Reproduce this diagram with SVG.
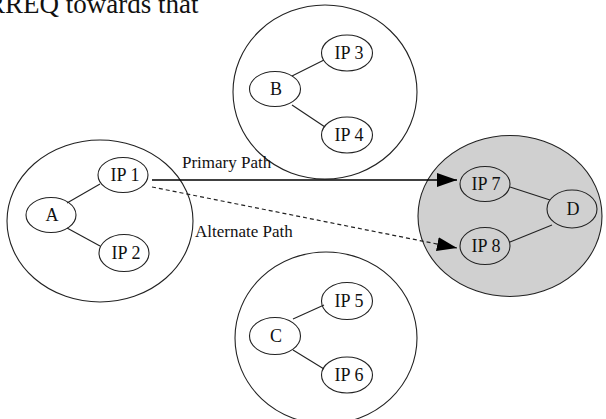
<svg xmlns="http://www.w3.org/2000/svg" width="606" height="419" viewBox="0 0 606 419">
<style>
.cl{fill:none;stroke:#222;stroke-width:1.1}
.cg{fill:#d0d0d0;stroke:#222;stroke-width:1.1}
.nd{fill:none;stroke:#222;stroke-width:1.1}
.ndg{fill:#d0d0d0;stroke:#222;stroke-width:1.1}
.ln{stroke:#222;stroke-width:1.1;fill:none}
text{font-family:"Liberation Serif","Times New Roman",serif;fill:#111}
.lb{font-size:18px;text-anchor:middle}
.pl{font-size:17px}
</style>
<defs>
<marker id="ah" markerUnits="userSpaceOnUse" markerWidth="20" markerHeight="14" refX="20" refY="7" orient="auto">
<path d="M0,0 L20,7 L0,14 z" fill="#000"/>
</marker>
</defs>
<rect width="606" height="419" fill="#fff"/>
<text x="-13" y="13" style="font-size:27px">RREQ towards that</text>

<g id="clusterA">
<ellipse class="cl" cx="100" cy="221" rx="93" ry="81"/>
<line class="ln" x1="67" y1="203" x2="100" y2="184"/>
<line class="ln" x1="67" y1="228" x2="100" y2="246"/>
<g id="A"><ellipse class="nd" cx="51" cy="215" rx="25" ry="17.5"/><text class="lb" x="52" y="221">A</text></g>
<g id="IP1"><ellipse class="nd" cx="123" cy="175" rx="25" ry="17.5"/><text class="lb" x="125" y="181">IP 1</text></g>
<g id="IP2"><ellipse class="nd" cx="124" cy="253" rx="25" ry="18.5"/><text class="lb" x="126" y="259">IP 2</text></g>
</g>

<g id="clusterB">
<ellipse class="cl" cx="325" cy="92" rx="92" ry="87"/>
<line class="ln" x1="292" y1="76" x2="324" y2="60"/>
<line class="ln" x1="292" y1="105" x2="325" y2="127"/>
<g id="B"><ellipse class="nd" cx="275" cy="89" rx="25.5" ry="17.5"/><text class="lb" x="276" y="95">B</text></g>
<g id="IP3"><ellipse class="nd" cx="347" cy="53" rx="25.5" ry="18"/><text class="lb" x="349" y="59">IP 3</text></g>
<g id="IP4"><ellipse class="nd" cx="347" cy="135" rx="25.5" ry="18"/><text class="lb" x="349" y="141">IP 4</text></g>
</g>

<g id="clusterC">
<ellipse class="cl" cx="326" cy="338" rx="91" ry="86"/>
<line class="ln" x1="293" y1="319" x2="324" y2="305"/>
<line class="ln" x1="293" y1="350" x2="324" y2="369"/>
<g id="C"><ellipse class="nd" cx="275" cy="336" rx="25.5" ry="18.5"/><text class="lb" x="276" y="342">C</text></g>
<g id="IP5"><ellipse class="nd" cx="347" cy="301" rx="25.5" ry="18.5"/><text class="lb" x="349" y="307">IP 5</text></g>
<g id="IP6"><ellipse class="nd" cx="347" cy="375" rx="25.5" ry="18"/><text class="lb" x="349" y="381">IP 6</text></g>
</g>

<g id="clusterD">
<ellipse class="cg" cx="510" cy="216" rx="92" ry="80.5"/>
<line class="ln" x1="510" y1="187" x2="550" y2="200"/>
<line class="ln" x1="510" y1="242" x2="552" y2="225"/>
<g id="IP7"><ellipse class="ndg" cx="485" cy="184" rx="25" ry="17.5"/><text class="lb" x="486" y="190">IP 7</text></g>
<g id="IP8"><ellipse class="ndg" cx="485" cy="246" rx="25" ry="18.5"/><text class="lb" x="486" y="252">IP 8</text></g>
<g id="D"><ellipse class="ndg" cx="572" cy="209" rx="25" ry="19"/><text class="lb" x="573" y="215">D</text></g>
</g>

<g id="connectors">
<line x1="152" y1="180" x2="457" y2="180" stroke="#000" stroke-width="1.3" marker-end="url(#ah)"/>
<line x1="152" y1="187" x2="457" y2="248" stroke="#222" stroke-width="1.2" stroke-dasharray="4,3" marker-end="url(#ah)"/>
<text class="pl" x="182" y="168">Primary Path</text>
<text class="pl" x="195" y="237">Alternate Path</text>
</g>
</svg>
